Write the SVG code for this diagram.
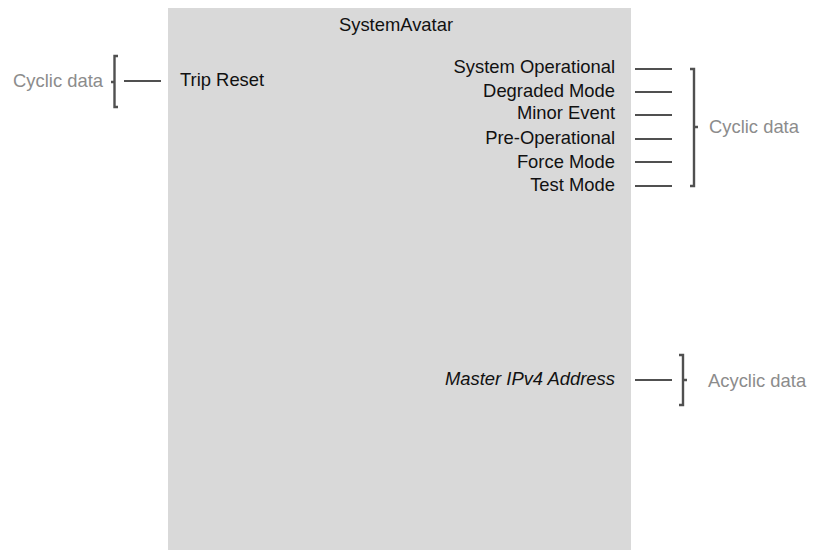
<svg xmlns="http://www.w3.org/2000/svg" width="813" height="550" viewBox="0 0 813 550">
<style>
.t{font-family:"Liberation Sans",Arial,sans-serif;font-size:18.4px;fill:#111}
.r{text-anchor:end}
.g{font-family:"Liberation Sans",Arial,sans-serif;font-size:18.4px;fill:#8c8c8c}
.ln{stroke:#505050;stroke-width:2.2;fill:none}
.br{stroke:#505050;stroke-width:2.4;fill:none;stroke-linejoin:miter}
</style>
<rect width="813" height="550" fill="#fff"/>
<g id="systemavatar">
<rect x="168" y="8" width="463" height="542" fill="#d9d9d9"/>
<text class="t" x="396" y="31" text-anchor="middle">SystemAvatar</text>
<text class="t" x="180" y="86">Trip Reset</text>
<text class="t r" x="615" y="73">System Operational</text>
<text class="t r" x="615" y="97">Degraded Mode</text>
<text class="t r" x="615" y="119">Minor Event</text>
<text class="t r" x="615" y="144">Pre-Operational</text>
<text class="t r" x="615" y="168">Force Mode</text>
<text class="t r" x="615" y="191">Test Mode</text>
<text class="t r" x="615" y="385" font-style="italic">Master IPv4 Address</text>
</g>
<g id="cyclic-in">
<path class="br" d="M118,56 H114.5 V107 H118 M114.5,82 H111"/>
<text class="g" x="103" y="87" text-anchor="end">Cyclic data</text>
</g>
<g id="cyclic-out">
<path class="br" d="M690,69 H694 V186 H690 M694,127 H698"/>
<text class="g" x="709" y="133">Cyclic data</text>
</g>
<g id="acyclic-out">
<path class="br" d="M679,355 H683 V405 H679 M683,380 H687"/>
<text class="g" x="708" y="387">Acyclic data</text>
</g>
<g id="connectors">
<line class="ln" x1="124" y1="81" x2="161" y2="81"/>
<line class="ln" x1="635" y1="69" x2="672" y2="69"/>
<line class="ln" x1="635" y1="92" x2="672" y2="92"/>
<line class="ln" x1="635" y1="115" x2="672" y2="115"/>
<line class="ln" x1="635" y1="139" x2="672" y2="139"/>
<line class="ln" x1="635" y1="162" x2="672" y2="162"/>
<line class="ln" x1="635" y1="186" x2="672" y2="186"/>
<line class="ln" x1="635" y1="380" x2="672" y2="380"/>
</g>
</svg>
